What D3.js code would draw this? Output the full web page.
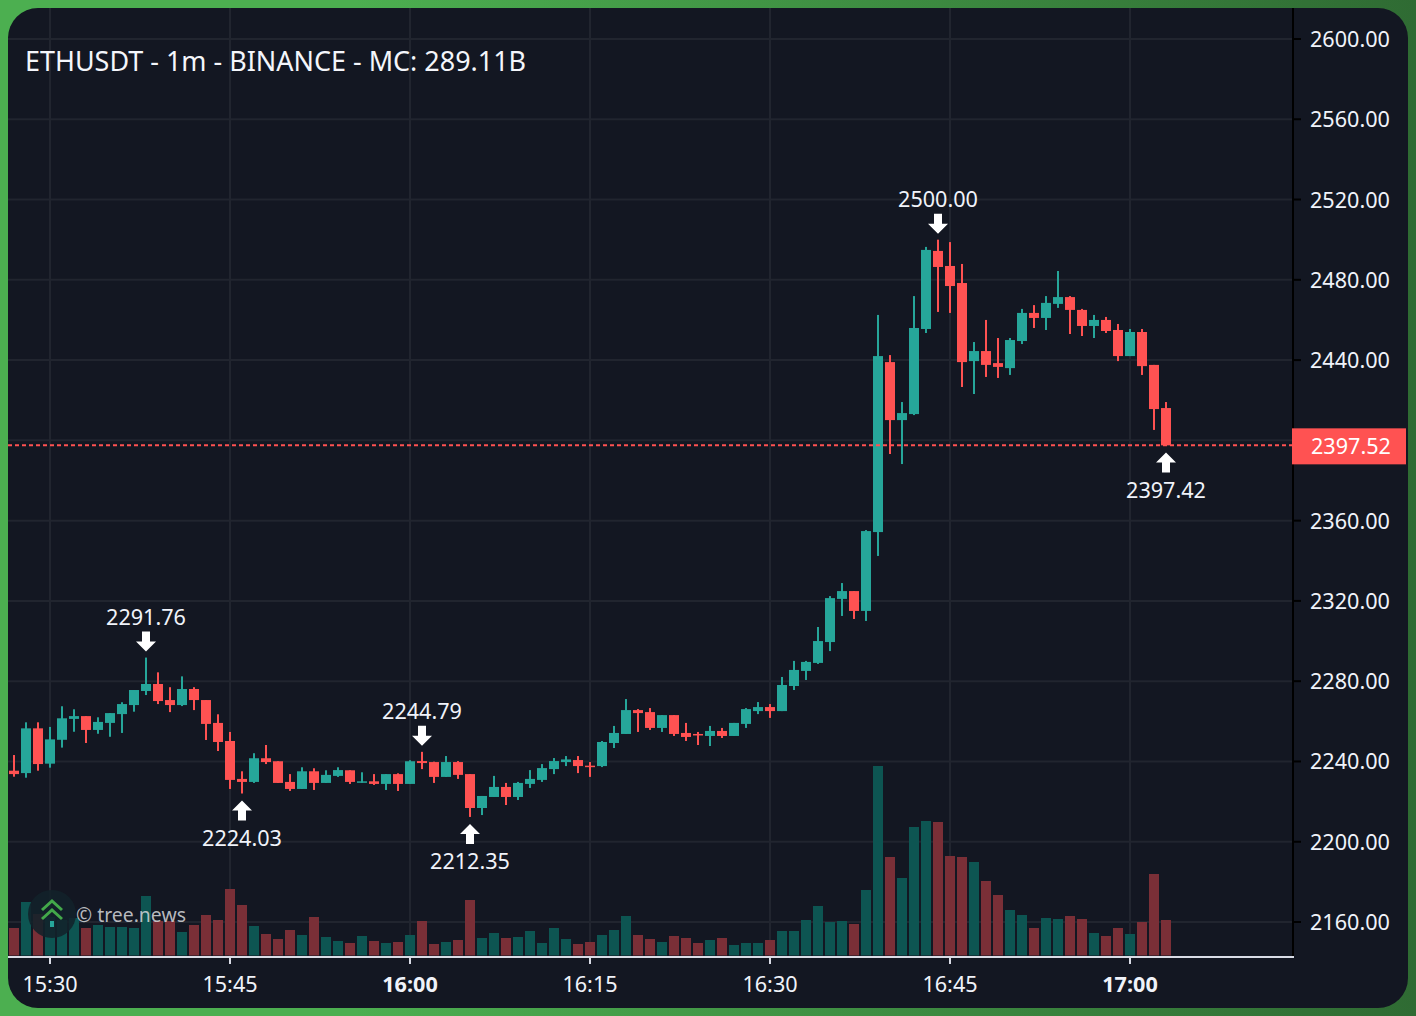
<!DOCTYPE html>
<html><head><meta charset="utf-8">
<script src="https://cdn.jsdelivr.net/npm/d3@7/dist/d3.min.js"></script>
<style>
html,body{margin:0;padding:0;width:1416px;height:1016px;overflow:hidden;background:#3f8f44}
svg{display:block}
text{font-family:"Noto Sans",sans-serif}
</style></head><body>
<div id="chart"></div>
<script>
const titleText = "ETHUSDT - 1m - BINANCE - MC: 289.11B";
const opens = [2235.4,2234.2,2256.5,2238.9,2250.8,2261.2,2262.6,2255.7,2259.2,2263.6,
2268.1,2275.1,2278.6,2270.6,2268.1,2276.1,2270.6,2259.2,2250.2,2231.3,
2229.8,2241.6,2240.1,2229.8,2226.3,2235.1,2229.3,2232.8,2235.6,2229.6,
2230.1,2228.8,2233.7,2228.8,2240.2,2239.7,2232.3,2239.7,2233.7,2216.8,
2222.3,2227.3,2222.3,2228.8,2230.8,2236.2,2239.7,2240.7,2237.9,2237.7,
2249.2,2253.7,2265.6,2264.6,2256.7,2263.1,2254.2,2253.7,2252.7,2255.2,
2252.7,2258.7,2265.1,2267.1,2265.1,2277.6,2285.1,2289.1,2299.5,2321.0,
2324.9,2315.0,2354.3,2439.0,2410.1,2413.1,2455.5,2494.4,2486.9,2478.4,
2439.5,2444.5,2438.5,2436.0,2449.5,2463.5,2461.0,2468.0,2471.4,2465.0,
2457.0,2460.0,2455.0,2442.0,2454.0,2437.6,2416.1];
const highs = [2243.2,2259.5,2259.5,2257.2,2267.5,2266.0,2262.6,2262.0,2264.1,2269.5,
2275.6,2291.76,2284.4,2277.0,2282.4,2277.0,2270.6,2263.5,2254.7,2235.1,
2244.1,2248.2,2240.1,2233.7,2237.1,2236.6,2235.6,2237.1,2235.6,2234.6,
2233.7,2233.7,2234.1,2240.6,2244.79,2239.9,2242.7,2240.2,2233.7,2222.8,
2232.8,2229.3,2229.8,2235.7,2238.7,2241.7,2242.7,2242.7,2239.7,2250.2,
2257.7,2271.1,2266.1,2266.6,2263.1,2263.1,2259.2,2254.7,2257.7,2256.7,
2259.2,2266.6,2269.6,2268.6,2282.1,2290.1,2290.1,2307.0,2322.4,2328.9,
2324.9,2355.3,2462.5,2442.5,2419.1,2471.9,2496.4,2500.00,2498.8,2487.9,
2449.0,2460.0,2451.0,2451.0,2465.5,2467.4,2471.9,2484.4,2471.9,2465.5,
2462.5,2461.5,2458.0,2455.5,2455.5,2437.6,2419.1];
const lows = [2232.4,2231.9,2235.4,2236.9,2246.9,2254.8,2249.2,2253.8,2252.3,2254.2,
2264.8,2273.1,2268.6,2264.6,2267.6,2265.6,2250.7,2245.2,2226.3,2224.03,
2229.3,2238.7,2229.3,2225.3,2226.3,2225.8,2229.3,2232.3,2228.8,2229.4,
2228.3,2225.8,2225.3,2228.8,2236.2,2229.3,2232.3,2231.3,2212.35,2213.3,
2222.3,2218.3,2220.8,2226.8,2229.8,2233.7,2237.7,2234.2,2232.3,2237.2,
2246.7,2253.7,2254.7,2255.7,2254.7,2252.7,2250.2,2248.2,2247.7,2251.7,
2252.7,2256.7,2263.6,2261.7,2265.1,2275.6,2280.6,2288.6,2295.0,2312.5,
2311.0,2310.0,2342.4,2393.2,2388.2,2412.6,2453.5,2464.0,2463.5,2426.6,
2423.1,2431.6,2431.1,2432.6,2448.0,2456.0,2455.0,2466.0,2453.0,2452.0,
2451.0,2453.5,2439.5,2442.0,2432.6,2405.2,2397.42];
const closes = [2233.7,2256.5,2238.7,2251.0,2261.5,2262.6,2255.7,2259.7,2264.1,2268.6,
2275.6,2278.6,2270.1,2268.1,2276.1,2270.6,2258.7,2249.7,2230.8,2229.8,
2241.6,2239.7,2229.3,2226.3,2235.1,2229.3,2233.3,2235.7,2229.8,2230.1,
2228.8,2233.7,2228.8,2240.1,2239.2,2232.3,2239.7,2233.3,2216.8,2222.8,
2227.3,2222.3,2229.3,2231.3,2236.7,2240.2,2241.0,2237.7,2237.4,2249.7,
2254.2,2265.6,2264.1,2256.7,2263.1,2253.7,2252.2,2253.0,2255.2,2252.7,
2259.2,2266.1,2267.1,2265.1,2278.1,2285.6,2289.6,2300.0,2321.4,2324.9,
2315.0,2354.8,2442.0,2410.1,2413.6,2456.0,2494.9,2486.4,2476.9,2439.0,
2444.5,2437.6,2436.6,2450.0,2463.5,2461.0,2468.5,2471.4,2465.0,2457.0,
2460.0,2454.5,2442.0,2454.0,2437.0,2415.6,2397.52];
const volumes = [275,535,415,385,355,375,275,305,285,285,
275,595,345,345,235,305,405,355,665,505,
295,215,165,255,205,385,185,145,125,195,
145,125,135,205,345,115,135,155,555,175,
225,175,185,245,125,275,165,115,135,205,
255,395,205,165,135,195,175,125,155,175,
105,125,125,155,245,245,355,495,335,345,
315,655,1895,985,775,1285,1345,1335,995,985,
935,745,605,455,405,275,375,365,395,365,
225,195,275,215,335,815,355];
const gridPrices = [2160,2200,2240,2280,2320,2360,2400,2440,2480,2520,2560,2600];
const priceTicks = [2160,2200,2240,2280,2320,2360,2440,2480,2520,2560,2600];
const timeTickIndex = [3,18,33,48,63,78,93];
const timeTickLabels = ["15:30","15:45","16:00","16:15","16:30","16:45","17:00"];
const boldTimeLabels = ["16:00","17:00"];
const highMarkers = [[11,"2291.76"],[34,"2244.79"],[77,"2500.00"]];
const lowMarkers = [[19,"2224.03"],[38,"2212.35"],[96,"2397.42"]];
const lastPrice = 2397.52;

const W=1416,H=1016, panel={x:8,y:8,w:1400,h:1000,r:30};
const plotRight=1293, plotBottom=957;
const green="#26a69a", red="#ff5252";

const x=d3.scaleLinear().domain([0,96]).range([14,1166]);
const y=d3.scaleLinear().domain([2160,2600]).range([922,39]);
const v=d3.scaleLinear().domain([0,1895]).range([955.5,766]);

const svg=d3.select("#chart").append("svg").attr("width",W).attr("height",H);
const defs=svg.append("defs");
const g=defs.append("linearGradient").attr("id","bg").attr("x1","0").attr("y1","0").attr("x2","1").attr("y2","0");
g.append("stop").attr("offset","0.25").attr("stop-color","#4caf50");
g.append("stop").attr("offset","1").attr("stop-color","#2f6b33");
defs.append("clipPath").attr("id","pc").append("rect").attr("x",panel.x).attr("y",panel.y).attr("width",panel.w).attr("height",panel.h).attr("rx",panel.r);
svg.append("rect").attr("width",W).attr("height",H).attr("fill","url(#bg)");
const root=svg.append("g").attr("clip-path","url(#pc)");
root.append("rect").attr("x",panel.x).attr("y",panel.y).attr("width",panel.w).attr("height",panel.h).attr("fill","#131722");

// grid
const gridColor="#21252f";
root.append("g").selectAll("line").data(gridPrices).join("line")
 .attr("x1",panel.x).attr("x2",plotRight).attr("y1",d=>y(d)).attr("y2",d=>y(d))
 .attr("stroke",gridColor).attr("stroke-width",2);
root.append("g").selectAll("line").data(timeTickIndex).join("line")
 .attr("x1",d=>x(d)).attr("x2",d=>x(d)).attr("y1",panel.y).attr("y2",plotBottom)
 .attr("stroke",gridColor).attr("stroke-width",2);

// data
const idx=d3.range(opens.length);
const isUp=i=>closes[i]>=opens[i];
const bodyW=10;
root.append("g").selectAll("rect").data(idx).join("rect")
 .attr("x",i=>x(i)-bodyW/2).attr("width",bodyW)
 .attr("y",i=>v(volumes[i])).attr("height",i=>v(0)-v(volumes[i]))
 .attr("fill",i=>isUp(i)?"#0d5552":"#7a2f37");

// logo
const logo=root.append("g").attr("transform","translate(52,914)");
logo.append("circle").attr("r",24).attr("fill","#12222a").attr("fill-opacity",0.88);
const logoGreen="#43a84a";
logo.append("path").attr("d","M-10,-4 L0,-13 L10,-4").attr("fill","none").attr("stroke",logoGreen).attr("stroke-width",3);
logo.append("path").attr("d","M-10,5 L0,-4 L10,5").attr("fill","none").attr("stroke",logoGreen).attr("stroke-width",3);
logo.append("rect").attr("x",-2).attr("y",7).attr("width",4).attr("height",6).attr("fill",green);
root.append("text").attr("x",76).attr("y",922).attr("font-size",19.4).attr("fill","#d6d8dc").attr("fill-opacity",0.85).text("© tree.news");

// candles
const cg=root.append("g");
cg.selectAll("rect.wick").data(idx).join("rect").attr("class","wick")
 .attr("x",i=>x(i)-1).attr("width",2)
 .attr("y",i=>y(highs[i])).attr("height",i=>y(lows[i])-y(highs[i]))
 .attr("fill",i=>isUp(i)?green:red);
cg.selectAll("rect.body").data(idx).join("rect").attr("class","body")
 .attr("x",i=>x(i)-bodyW/2).attr("width",bodyW)
 .attr("y",i=>y(Math.max(opens[i],closes[i])))
 .attr("height",i=>Math.max(1.5,Math.abs(y(opens[i])-y(closes[i]))))
 .attr("fill",i=>isUp(i)?green:red);

// last price line
root.append("line").attr("x1",panel.x).attr("x2",plotRight+8).attr("y1",y(lastPrice)).attr("y2",y(lastPrice))
 .attr("stroke",red).attr("stroke-width",2).attr("stroke-dasharray","4 3");

// axes
const fs=21.6;
const yAxis=d3.axisRight(y).tickValues(priceTicks).tickFormat(d3.format(".2f")).tickSize(8).tickPadding(9).offset(0);
const ya=root.append("g").attr("transform",`translate(${plotRight},0)`).call(yAxis);
ya.select(".domain").remove();
ya.selectAll(".tick line").attr("stroke","#000").attr("stroke-width",2);
ya.selectAll(".tick text").attr("fill","#f0f3fa").attr("font-size",fs).attr("font-family",'"Noto Sans",sans-serif').attr("dy","0.37em");
root.append("line").attr("x1",plotRight).attr("x2",plotRight).attr("y1",panel.y).attr("y2",plotBottom).attr("stroke","#000").attr("stroke-width",2);

const xAxis=d3.axisBottom(x).tickValues(timeTickIndex).tickFormat((d,i)=>timeTickLabels[i]).tickSize(7).tickPadding(13).offset(0);
const xa=root.append("g").attr("transform",`translate(0,${plotBottom})`).call(xAxis);
xa.select(".domain").remove();
xa.selectAll(".tick line").attr("stroke","#d9dce6").attr("stroke-width",2);
xa.selectAll(".tick text").attr("fill","#f0f3fa").attr("font-size",fs).attr("font-family",'"Noto Sans",sans-serif')
 .attr("font-weight",(d,i)=>boldTimeLabels.includes(timeTickLabels[i])?700:400);
root.append("line").attr("x1",panel.x).attr("x2",plotRight+1).attr("y1",plotBottom).attr("y2",plotBottom).attr("stroke","#d9dce6").attr("stroke-width",2);

// last price tag
const tagY=y(lastPrice);
root.append("rect").attr("x",plotRight-1).attr("y",tagY-17).attr("width",114).attr("height",36).attr("fill",red);
root.append("text").attr("x",plotRight+18).attr("y",tagY+8.5).attr("fill","#fff").attr("font-size",fs).text(d3.format(".2f")(lastPrice));

// markers
const m=root.append("g");
function arrow(cx,tip,dir){ // dir=1: pointing down, tip below; dir=-1: pointing up
 const p=d3.path();
 p.moveTo(cx,tip); p.lineTo(cx-10,tip-dir*10); p.lineTo(cx-4,tip-dir*10);
 p.lineTo(cx-4,tip-dir*20); p.lineTo(cx+4,tip-dir*20); p.lineTo(cx+4,tip-dir*10);
 p.lineTo(cx+10,tip-dir*10); p.closePath();
 return p.toString();
}
highMarkers.forEach(([i,t])=>{
 const tip=y(highs[i])-6;
 m.append("path").attr("d",arrow(x(i),tip,1)).attr("fill","#fff");
 m.append("text").attr("x",x(i)).attr("y",tip-34).attr("dy","0.33em").attr("text-anchor","middle").attr("fill","#f0f3fa").attr("font-size",fs).text(t);
});
lowMarkers.forEach(([i,t])=>{
 const tip=y(lows[i])+7;
 m.append("path").attr("d",arrow(x(i),tip,-1)).attr("fill","#fff");
 m.append("text").attr("x",x(i)).attr("y",tip+37).attr("dy","0.39em").attr("text-anchor","middle").attr("fill","#f0f3fa").attr("font-size",fs).text(t);
});

// title
root.append("text").attr("x",25).attr("y",71).attr("font-size",26.95).attr("fill","#f4f6fb").text(titleText);
</script>
</body></html>
